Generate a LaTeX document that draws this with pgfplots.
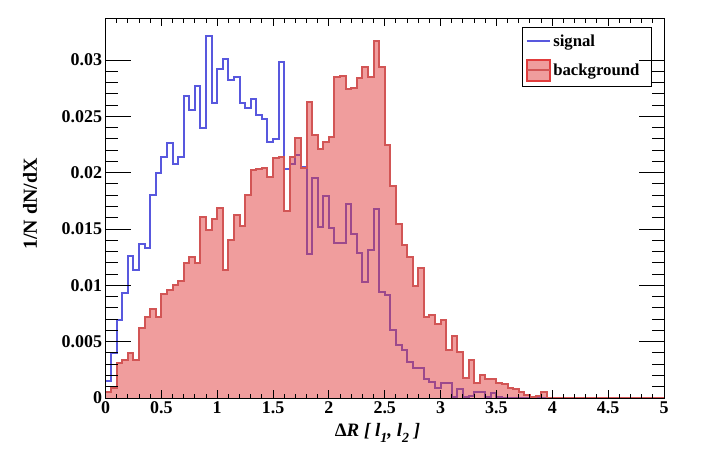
\documentclass[border=0pt]{standalone}
\usepackage{fontspec}
\setmainfont{Liberation Serif}
\usepackage{pgfplots}
\usepackage{pgfplotstable}
\pgfplotsset{compat=1.18}
\definecolor{sigblue}{RGB}{88,88,222}
\definecolor{bgred}{RGB}{210,85,85}
\definecolor{bgfill}{RGB}{225,60,60}
\newcommand{\lsub}[1]{\raisebox{-5.5bp}{\fontsize{14}{14}\selectfont #1}}

\pgfplotstableread{
x y
0 0.0015
0.05 0.0040
0.1 0.0069
0.15 0.0093
0.2 0.0126
0.25 0.0114
0.3 0.0137
0.35 0.0133
0.4 0.0180
0.45 0.0200
0.5 0.0214
0.55 0.0226
0.6 0.0208
0.65 0.0214
0.7 0.0268
0.75 0.0256
0.8 0.0277
0.85 0.0240
0.9 0.0321
0.95 0.0262
1 0.0292
1.05 0.0301
1.1 0.0282
1.15 0.0285
1.2 0.0262
1.25 0.0257
1.3 0.0265
1.35 0.0251
1.4 0.0248
1.45 0.0227
1.5 0.0230
1.55 0.0298
1.6 0.0203
1.65 0.0208
1.7 0.0216
1.75 0.0205
1.8 0.0128
1.85 0.0195
1.9 0.0152
1.95 0.0179
2 0.0151
2.05 0.0138
2.1 0.0138
2.15 0.0172
2.2 0.0146
2.25 0.0129
2.3 0.0103
2.35 0.0131
2.4 0.0168
2.45 0.0094
2.5 0.0091
2.55 0.0060
2.6 0.0047
2.65 0.0043
2.7 0.0032
2.75 0.0027
2.8 0.0027
2.85 0.0017
2.9 0.0014
2.95 0.0009
3 0.0013
3.05 0.0013
3.1 0.0001
3.15 0.0008
3.2 0.0001
3.25 0.0002
3.3 0.0005
3.35 0.0005
3.4 0.0001
3.45 0.0004
3.5 0.0001
3.55 0
5 0
}\sigtable

\pgfplotstableread{
x y
0 0.0005
0.05 0.0009
0.1 0.0031
0.15 0.0034
0.2 0.0040
0.25 0.0034
0.3 0.0062
0.35 0.0072
0.4 0.0079
0.45 0.0072
0.5 0.0092
0.55 0.0096
0.6 0.0100
0.65 0.0104
0.7 0.0120
0.75 0.0125
0.8 0.0120
0.85 0.0161
0.9 0.0149
0.95 0.0159
1 0.0169
1.05 0.0114
1.1 0.0140
1.15 0.0162
1.2 0.0153
1.25 0.0180
1.3 0.0202
1.35 0.0203
1.4 0.0204
1.45 0.0196
1.5 0.0213
1.55 0.0214
1.6 0.0166
1.65 0.0214
1.7 0.0231
1.75 0.0204
1.8 0.0263
1.85 0.0233
1.9 0.0221
1.95 0.0227
2 0.0232
2.05 0.0285
2.1 0.0286
2.15 0.0274
2.2 0.0275
2.25 0.0284
2.3 0.0294
2.35 0.0285
2.4 0.0317
2.45 0.0294
2.5 0.0225
2.55 0.0188
2.6 0.0154
2.65 0.0136
2.7 0.0125
2.75 0.0099
2.8 0.0115
2.85 0.0072
2.9 0.0074
2.95 0.0066
3 0.0069
3.05 0.0043
3.1 0.0055
3.15 0.0041
3.2 0.0018
3.25 0.0034
3.3 0.0013
3.35 0.0020
3.4 0.0017
3.45 0.0017
3.5 0.0013
3.55 0.0012
3.6 0.0009
3.65 0.0008
3.7 0.0005
3.75 0.0003
3.8 0.0001
3.85 0.0002
3.9 0.0005
3.95 0
5 0
}\bgtable

\begin{document}
\begin{tikzpicture}
\useasboundingbox (-105.5bp,-63bp) rectangle (595.5bp,398bp);
\begin{axis}[
  at={(0,0)}, anchor=south west,
  scale only axis, width=558.5bp, height=379bp,
  xmin=0, xmax=5, ymin=0, ymax=0.03364,
  axis on top,
  axis line style={line width=1bp},
  tick style={black, line width=1bp},
  tick align=inside,
  xtick={0,0.5,1,1.5,2,2.5,3,3.5,4,4.5,5},
  xticklabels={0,0.5,1,1.5,2,2.5,3,3.5,4,4.5,5},
  minor x tick num=4,
  ytick=\empty,
  xtick pos=both, xticklabel pos=lower,
  major tick length=7.5bp, minor tick length=4bp,
  /pgf/number format/assume math mode=true,
  xticklabel style={font=\fontsize{18}{20}\selectfont\bfseries},
  xlabel={\bfseries Δ\textit{R [ l\lsub{1}, l\lsub{2} ]}},
  every axis x label/.style={at={(rel axis cs:0.487,0)}, yshift=-38.7bp, anchor=base, font=\fontsize{19}{22}\selectfont\bfseries},
  legend style={at={(rel axis cs:0.979,0.978)}, anchor=north east,
    draw=black, line width=1bp, fill=white,
    font=\fontsize{16.8}{20}\selectfont\bfseries,
    inner xsep=3bp, inner ysep=5bp, row sep=9bp,
    nodes={inner xsep=2.5bp},
    /tikz/every odd column/.append style={column sep=0bp},
    /tikz/every even column/.append style={text width=93bp}},
  legend cell align=left,
]
\addplot[const plot mark left, draw=sigblue, line width=2bp,
  legend image code/.code={\draw[sigblue, line width=2bp] (0bp,0bp) -- (23bp,0bp);}]
  table {\sigtable};
\addlegendentry{signal}
\addplot[const plot mark left, draw=none, fill=bgfill, fill opacity=0.5, forget plot]
  table {\bgtable} \closedcycle;
\addplot[const plot mark left, draw=bgred, line width=2bp,
  legend image code/.code={\fill[bgfill, fill opacity=0.5] (0bp,-10.5bp) rectangle (23bp,10.5bp);
    \draw[bgred, line width=2bp] (0bp,0bp) -- (23bp,0bp);}]
  table {\bgtable};
\addlegendentry{background}
\end{axis}
\begin{axis}[
  at={(0,0)}, anchor=south west,
  scale only axis, width=558.5bp, height=379bp,
  xmin=0, xmax=5, ymin=0, ymax=0.03364,
  scaled y ticks=false,
  axis line style={line width=1bp},
  tick style={black, line width=1bp},
  tick align=inside,
  xtick=\empty,
  ytick={0,0.005,0.01,0.015,0.02,0.025,0.03},
  yticklabels={0,0.005,0.01,0.015,0.02,0.025,0.03},
  minor y tick num=4,
  ytick pos=both, yticklabel pos=left,
  major tick length=25bp, minor tick length=12bp,
  /pgf/number format/assume math mode=true,
  yticklabel style={font=\fontsize{18}{20}\selectfont\bfseries},
  ylabel={1/N dN/dX},
  every axis y label/.style={at={(rel axis cs:0,0.512)}, xshift=-75.5bp, rotate=90, anchor=center, font=\fontsize{20}{24}\selectfont\bfseries},
]
\end{axis}
\end{tikzpicture}
\end{document}
